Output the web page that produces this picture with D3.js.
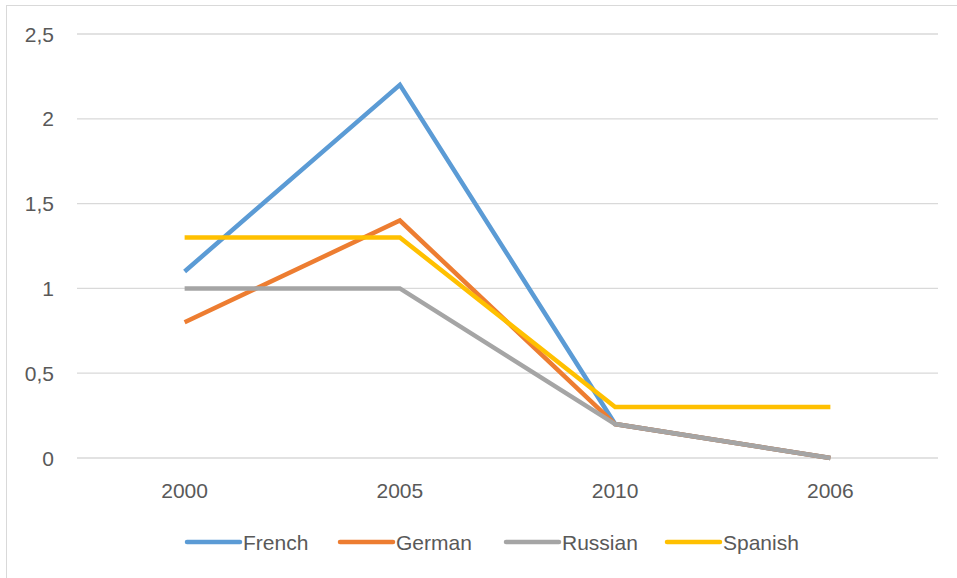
<!DOCTYPE html>
<html lang="en">
<head>
	<meta charset="UTF-8">
	<title>Line chart</title>
	<script src="https://cdn.jsdelivr.net/npm/d3@7"></script>
	<style>
		body{margin:0;background:#fff;}
		svg{display:block;}
		text{font-family:"Liberation Sans",Arial,sans-serif;fill:#595959;}
	</style>
</head>
<body>
	<svg id="svg" width="957" height="578"></svg>
	<script>
		var categories = ["2000", "2005", "2010", "2006"];
		var french = [1.1, 2.2, 0.2, 0];
		var german = [0.8, 1.4, 0.2, 0];
		var russian = [1.0, 1.0, 0.2, 0];
		var spanish = [1.3, 1.3, 0.3, 0.3];
		var yTicks = [0, 0.5, 1, 1.5, 2, 2.5];

		var series = [
			{name:"French", values:french, color:"#5B9BD5"},
			{name:"German", values:german, color:"#ED7D31"},
			{name:"Russian", values:russian, color:"#A5A5A5"},
			{name:"Spanish", values:spanish, color:"#FFC000"}
		];

		var svg = d3.select("svg");

		// chart frame (only top and left visible in the picture)
		svg.append("rect")
			.attr("x",6.5).attr("y",5.5)
			.attr("width",1000).attr("height",600)
			.attr("fill","none").attr("stroke","#d9d9d9");

		var x = d3.scaleBand().domain(categories).range([77,938]);
		var y = d3.scaleLinear().domain([0,2.5]).range([458,34]);

		// gridlines
		svg.append("g").selectAll("line")
			.data(yTicks).enter().append("line")
			.attr("x1",77).attr("x2",938)
			.attr("y1",d=>y(d)).attr("y2",d=>y(d))
			.attr("stroke","#d9d9d9").attr("stroke-width",1.3);

		// y labels
		svg.append("g").selectAll("text")
			.data(yTicks).enter().append("text")
			.attr("x",54).attr("y",d=>y(d))
			.attr("dy","0.36em")
			.attr("text-anchor","end")
			.style("font-size","21px")
			.text(d=>String(d).replace(".",","));

		// x labels
		svg.append("g").selectAll("text")
			.data(categories).enter().append("text")
			.attr("x",d=>x(d)+x.bandwidth()/2).attr("y",498)
			.attr("text-anchor","middle")
			.style("font-size","21px")
			.text(d=>d);

		var line = d3.line()
			.x((d,i)=>x(categories[i])+x.bandwidth()/2)
			.y(d=>y(d));

		svg.append("g").selectAll("path")
			.data(series).enter().append("path")
			.attr("d",d=>line(d.values))
			.attr("fill","none")
			.attr("stroke",d=>d.color)
			.attr("stroke-width",4.5)
			.attr("stroke-linejoin","miter")
			.attr("stroke-linecap","butt");

		// legend
		var legendX = [185, 338, 504, 665];
		var lg = svg.append("g").selectAll("g")
			.data(series).enter().append("g")
			.attr("transform",(d,i)=>"translate("+legendX[i]+",542)");
		lg.append("line")
			.attr("x1",2).attr("x2",55)
			.attr("stroke",d=>d.color)
			.attr("stroke-width",4.5)
			.attr("stroke-linecap","round");
		lg.append("text")
			.attr("x",58).attr("dy","0.36em")
			.style("font-size","21px")
			.text(d=>d.name);
	</script>
</body>
</html>
